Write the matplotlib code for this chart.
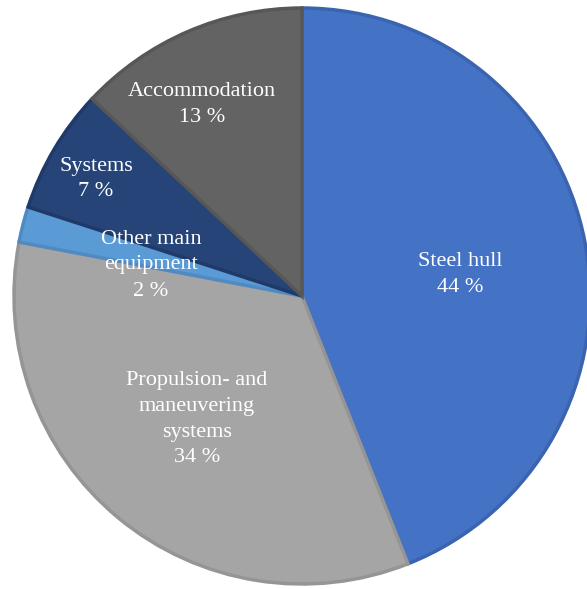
import numpy as np
import matplotlib
matplotlib.use("Agg")
import matplotlib.pyplot as plt

labels = ["Steel hull", "Propulsion- and\nmaneuvering\nsystems", "Other main\nequipment",
          "Systems", "Accommodation"]
shares = [44, 34, 2, 7, 13]
colors = ["#4472C4", "#A5A5A5", "#5B9BD5", "#264478", "#636363"]
edges = ["#3A64B0", "#959595", "#4F8BC2", "#1F3A68", "#575757"]
# label centre offsets from the pie centre, in pixels
label_off = [(158, 21), (-105, -123), (-151, 31), (-206, 117), (-100, 192)]

W, H = 587, 589
fig = plt.figure(figsize=(W / 100, H / 100), dpi=100)
ax = fig.add_axes([0, 0, 1, 1])

cx, cy, r = 302, H - 296, 288
wedges, _ = ax.pie(shares, colors=colors, startangle=90, counterclock=False,
                   center=(cx, cy), radius=r, frame=True,
                   wedgeprops=dict(linewidth=2.5))
ax.set_xlim(0, W)
ax.set_ylim(0, H)
ax.set_aspect("equal")
ax.axis("off")

for w, ec, lab, val, (dx, dy) in zip(wedges, edges, labels, shares, label_off):
    w.set_edgecolor(ec)
    ax.text(cx + dx, cy + dy, f"{lab}\n{val} %", ha="center", va="center",
            color="white", fontsize=16, family="Liberation Serif",
            linespacing=1.5)

fig.savefig("out.png", dpi=100)
